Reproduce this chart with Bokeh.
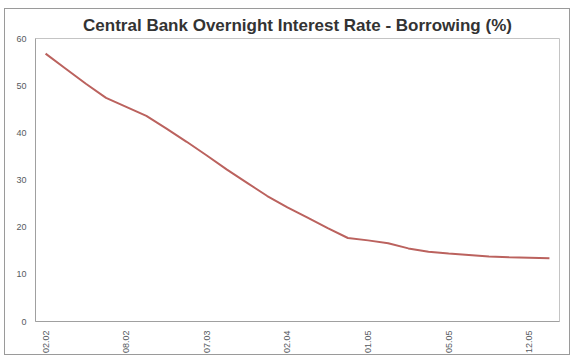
import math
from bokeh.plotting import figure
from bokeh.models import FixedTicker, Range1d
from bokeh.embed import file_html
from bokeh.resources import INLINE

# Data: 26 observations, axis labels shown every 4th category
rates = [56.8, 53.6, 50.4, 47.4, 45.5, 43.6, 40.9, 38.1, 35.2, 32.2, 29.4, 26.6,
         24.2, 22.0, 19.8, 17.7, 17.2, 16.6, 15.5, 14.8, 14.4, 14.1, 13.8, 13.6,
         13.5, 13.4]
label_positions = [0, 4, 8, 12, 16, 20, 24]
tick_labels = ["02.02", "08.02", "07.03", "02.04", "01.05", "05.05", "12.05"]
y_ticks = [0, 10, 20, 30, 40, 50, 60]

x = list(range(len(rates)))

p = figure(width=566, height=347, output_backend="svg", toolbar_location=None,
           x_range=Range1d(-0.5, len(rates) - 0.5), y_range=Range1d(0, 60),
           min_border_left=30, min_border_right=12, min_border_top=0,
           min_border_bottom=33,
           title="Central Bank Overnight Interest Rate - Borrowing (%)")
p.styles = {"border": "1px solid #9a9a9a", "margin-left": "4px", "margin-top": "8px"}

p.title.align = "center"
p.title.text_font = "Liberation Sans"
p.title.text_font_size = "17px"
p.title.text_font_style = "bold"
p.title.text_color = "#333333"
p.title.standoff = 8

p.line(x, rates, line_color="#bb625e", line_width=2)

p.xgrid.visible = False
p.ygrid.visible = False
p.outline_line_color = "#c4c4c4"
p.background_fill_color = "white"
p.border_fill_color = "white"

p.xaxis.ticker = FixedTicker(ticks=label_positions)
p.xaxis.major_label_overrides = {pos: lab for pos, lab in zip(label_positions, tick_labels)}
p.xaxis.major_label_orientation = math.pi / 2
p.yaxis.ticker = FixedTicker(ticks=y_ticks)

for ax in (p.xaxis, p.yaxis):
    ax.major_tick_line_color = None
    ax.minor_tick_line_color = None
    ax.major_tick_out = 0
    ax.major_tick_in = 0
    ax.minor_tick_out = 0
    ax.minor_tick_in = 0
    ax.axis_line_color = "#a0a0a0"
    ax.major_label_text_font = "Liberation Sans"
    ax.major_label_text_font_size = "9px"
    ax.major_label_text_color = "#555a60"
    ax.major_label_standoff = 9

open("out.html", "w").write(file_html(p, INLINE))
